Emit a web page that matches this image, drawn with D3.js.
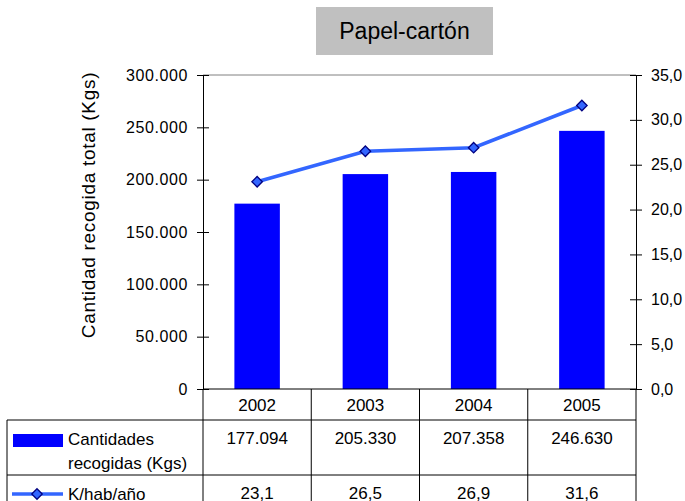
<!DOCTYPE html>
<html>
<head>
<meta charset="utf-8">
<script src="https://cdn.jsdelivr.net/npm/d3@7"></script>
<style>
  body { margin: 0; background: #fff; }
  svg text { font-family: "Liberation Sans", Arial, sans-serif; fill: #000; }
</style>
</head>
<body>
<svg width="685" height="501"></svg>
<script>
// datos
var years = ["2002", "2003", "2004", "2005"];
var cantidades = [177094, 205330, 207358, 246630];
var kHabAno = [23.1, 26.5, 26.9, 31.6];
var leftTicks = [0, 50000, 100000, 150000, 200000, 250000, 300000];
var rightTicks = [0, 5, 10, 15, 20, 25, 30, 35];

var svg = d3.select("svg");

var es = d3.formatLocale({decimal: ",", thousands: ".", grouping: [3], currency: ["", "€"]});
var fmtKg = es.format(",d");
var fmtK = es.format(".1f");

var pLeft = 203, pRight = 636, pTop = 75, pBottom = 389;

var x = d3.scaleBand().domain(years).range([pLeft, pRight]).paddingInner(0.58).paddingOuter(0.29);
var col = d3.scaleBand().domain(years).range([pLeft, pRight]);
var y = d3.scaleLinear().domain([0, 300000]).range([pBottom, pTop]);
var y2 = d3.scaleLinear().domain([0, 35]).range([pBottom, pTop]);

// title box
svg.append("rect").attr("x", 316).attr("y", 7).attr("width", 177).attr("height", 48).attr("fill", "#c0c0c0");
svg.append("text").attr("x", 404.5).attr("y", 39).attr("text-anchor", "middle")
  .style("font-size", "23px").text("Papel-cartón");

// top border of plot
svg.append("line").attr("x1", pLeft).attr("x2", pRight).attr("y1", pTop).attr("y2", pTop)
  .attr("stroke", "#808080").attr("stroke-width", 1);

// bars
svg.selectAll(".bar").data(cantidades).enter().append("rect")
  .attr("class", "bar")
  .attr("x", function(d, i) { return x(years[i]); })
  .attr("width", x.bandwidth())
  .attr("y", function(d) { return y(d); })
  .attr("height", function(d) { return pBottom - y(d); })
  .attr("fill", "#0000ff");

// axes
var gl = svg.append("g").attr("transform", "translate(" + pLeft + ",0)")
  .call(d3.axisLeft(y).tickValues(leftTicks).tickFormat(function(d) { return d === 0 ? "0" : fmtKg(d); }).tickSize(6).tickPadding(15));
gl.selectAll(".tick line").attr("x1", 6).attr("x2", -6);
gl.selectAll(".tick text").style("font-size", "16px").style("letter-spacing", "0.6px").attr("x", -15);

var gr = svg.append("g").attr("transform", "translate(" + pRight + ",0)")
  .call(d3.axisRight(y2).tickValues(rightTicks).tickFormat(fmtK).tickSize(6).tickPadding(9));
gr.selectAll(".tick line").attr("x1", -6).attr("x2", 6);
gr.selectAll(".tick text").style("font-size", "16px");

[gl, gr].forEach(function(g) {
  g.select(".domain").attr("stroke", "#000");
  g.selectAll(".tick line").attr("stroke", "#000");
});

// baseline
svg.append("line").attr("x1", pLeft).attr("x2", pRight).attr("y1", pBottom).attr("y2", pBottom).attr("stroke", "#000");

// line series
var cx = function(i) { return x(years[i]) + x.bandwidth() / 2; };
var line = d3.line().x(function(d, i) { return cx(i); }).y(function(d) { return y2(d); });
svg.append("path").datum(kHabAno).attr("d", line)
  .attr("fill", "none").attr("stroke", "#3366ff").attr("stroke-width", 3.5);

var diamond = d3.symbol().type(d3.symbolDiamond2).size(70);
svg.selectAll(".pt").data(kHabAno).enter().append("path")
  .attr("class", "pt")
  .attr("d", diamond)
  .attr("transform", function(d, i) { return "translate(" + cx(i) + "," + y2(d) + ")"; })
  .attr("fill", "#3366ff").attr("stroke", "#000080").attr("stroke-width", 1.3);

// y label
svg.append("text")
  .attr("transform", "translate(95,205) rotate(-90)")
  .attr("text-anchor", "middle")
  .style("font-size", "19px").style("letter-spacing", "0.7px")
  .text("Cantidad recogida total (Kgs)");

// data table
var tLeft = 7, r1 = 420, r2 = 475, tBottom = 520;
var tbl = svg.append("g").attr("stroke", "#000").attr("stroke-width", 1);
tbl.append("line").attr("x1", tLeft).attr("x2", tLeft).attr("y1", r1).attr("y2", tBottom);
tbl.append("line").attr("x1", tLeft).attr("x2", pRight).attr("y1", r1).attr("y2", r1);
tbl.append("line").attr("x1", tLeft).attr("x2", pRight).attr("y1", r2).attr("y2", r2);
tbl.selectAll(".vl").data(years.concat(["end"])).enter().append("line")
  .attr("x1", function(d) { return d === "end" ? pRight : col(d); })
  .attr("x2", function(d) { return d === "end" ? pRight : col(d); })
  .attr("y1", pBottom).attr("y2", tBottom);

var colMid = function(d) { return col(d) + col.bandwidth() / 2; };
svg.selectAll(".yr").data(years).enter().append("text")
  .attr("x", colMid).attr("y", 411).attr("text-anchor", "middle")
  .style("font-size", "17px").text(function(d) { return d; });
svg.selectAll(".v1").data(cantidades).enter().append("text")
  .attr("x", function(d, i) { return colMid(years[i]); }).attr("y", 444).attr("text-anchor", "middle")
  .style("font-size", "17px").text(function(d) { return fmtKg(d); });
svg.selectAll(".v2").data(kHabAno).enter().append("text")
  .attr("x", function(d, i) { return colMid(years[i]); }).attr("y", 499).attr("text-anchor", "middle")
  .style("font-size", "17px").text(function(d) { return fmtK(d); });

// legend keys
svg.append("rect").attr("x", 13).attr("y", 434).attr("width", 50).attr("height", 13).attr("fill", "#0000ff");
svg.append("text").attr("x", 68).attr("y", 445).style("font-size", "17px").text("Cantidades");
svg.append("text").attr("x", 68).attr("y", 469).style("font-size", "17px").text("recogidas (Kgs)");
svg.append("line").attr("x1", 12).attr("x2", 63).attr("y1", 494).attr("y2", 494)
  .attr("stroke", "#3366ff").attr("stroke-width", 3.5);
svg.append("path").attr("d", diamond).attr("transform", "translate(37,494)")
  .attr("fill", "#3366ff").attr("stroke", "#000080").attr("stroke-width", 1.3);
svg.append("text").attr("x", 68).attr("y", 500).style("font-size", "17px").text("K/hab/año");
</script>
</body>
</html>
